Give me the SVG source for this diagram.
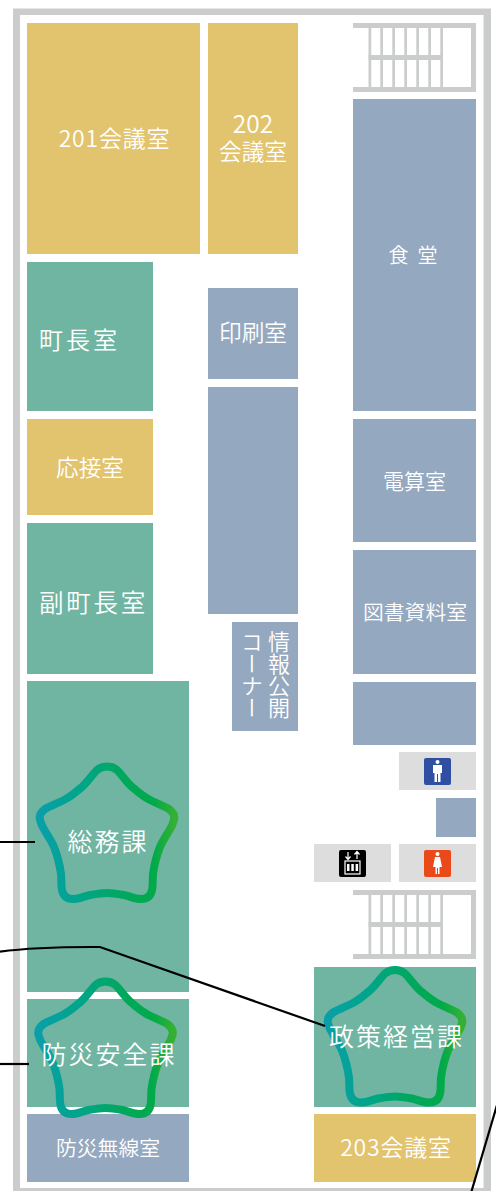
<svg xmlns="http://www.w3.org/2000/svg" xmlns:xlink="http://www.w3.org/1999/xlink" width="496" height="1191" viewBox="0 0 496 1191">
<style>
.y{fill:#e2c36e}.g{fill:#6fb5a2}.b{fill:#94a8c0}.w{fill:#dcdddc}.s{fill:#cbcdcc}
text{font-family:"Noto Sans CJK JP","Noto Sans",sans-serif;font-weight:350;fill:#fff;text-anchor:middle}
.v{writing-mode:vertical-rl;text-anchor:start}
.star{fill:none;stroke:url(#sg);stroke-width:8;stroke-linejoin:round}
.c{fill:none;stroke:#000;stroke-width:2.200}
.p{fill:#fff}
</style>
<defs>
<linearGradient id="sg" x1="0" y1="0" x2="1" y2="0"><stop offset="0" stop-color="#0a9fa8"/><stop offset=".3" stop-color="#00a58a"/><stop offset=".6" stop-color="#00a85f"/><stop offset=".85" stop-color="#00aa4a"/><stop offset="1" stop-color="#35b034"/></linearGradient>
<path id="starp" d="M0,4.500C4,4.500 7,5.500 10,8C16,14 20,21 26.700,26.300C32,31 37,35 43,38C49,41 57,44 62,47C66,50 68,54 67,58C66,62 64.500,65 62,69C59,74 55,80 53,85C49,95 47,105 46,112C45.500,118 46,124 45,128C44,133 41,137 34,137C28,137 22,134 17,133C11,132 5,131 0,131C-5,131 -11,132 -17,133C-22,134 -28,137 -34,137C-41,137 -44,133 -45,128C-46,124 -45.500,118 -46,112C-47,105 -49,95 -53,85C-55,80 -59,74 -62,69C-64.500,65 -66,62 -67,58C-68,54 -66,50 -62,47C-57,44 -49,41 -43,38C-37,35 -32,31 -26.700,26.300C-20,21 -16,14 -10,8C-7,5.500 -4,4.500 0,4.500Z"/>
<g id="stairs" class="s">
<rect x="0" y="0" width="123" height="5"/><rect x="0" y="64" width="123" height="5"/><rect x="118" y="0" width="5" height="69"/>
<rect x="15.500" y="32" width="74.500" height="5"/>
<rect x="15.500" y="0" width="2.700" height="69"/><rect x="27.300" y="0" width="2.700" height="69"/><rect x="39.300" y="0" width="2.700" height="69"/><rect x="51.300" y="0" width="2.700" height="69"/><rect x="63.300" y="0" width="2.700" height="69"/><rect x="75.300" y="0" width="2.700" height="69"/><rect x="87.300" y="0" width="2.700" height="69"/>
</g>
</defs>
<path id="frame" class="s" fill-rule="evenodd" d="M13,8.500H491V1191H13ZM20,15V1188H483.500V15Z"/>
<use href="#stairs" xlink:href="#stairs" x="353" y="23"/>
<use href="#stairs" xlink:href="#stairs" x="353" y="890"/>
<g id="r201"><rect class="y" x="27" y="23" width="173" height="231"/><text x="114.500" y="147" font-size="23" letter-spacing=".8">201会議室</text></g>
<g id="r202"><rect class="y" x="208" y="23" width="90" height="231"/><text x="253" y="133" font-size="24.500">202</text><text x="253" y="160" font-size="22.700">会議室</text></g>
<g id="mayor"><rect class="g" x="27" y="262" width="126" height="149"/><text x="79.500" y="349" font-size="24" letter-spacing="3">町長室</text></g>
<g id="reception"><rect class="y" x="27" y="419" width="126" height="96"/><text x="90" y="476" font-size="22.700">応接室</text></g>
<g id="vicemayor"><rect class="g" x="27" y="523" width="126" height="151"/><text x="93.500" y="612" font-size="24.500" letter-spacing="2.800">副町長室</text></g>
<g id="soumu"><rect class="g" x="27" y="681" width="162" height="311"/><use class="star" href="#starp" xlink:href="#starp" x="107" y="762"/><text x="108" y="851" font-size="25" letter-spacing="2">総務課</text></g>
<g id="radio"><rect class="b" x="27" y="1114" width="162" height="68"/><text x="108" y="1156" font-size="20.800">防災無線室</text></g>
<g id="bousai"><rect class="g" x="27" y="999" width="162" height="108"/><use class="star" href="#starp" xlink:href="#starp" x="105.500" y="977"/><text x="109" y="1064" font-size="25" letter-spacing="2">防災安全課</text></g>
<g id="print"><rect class="b" x="208" y="288" width="90" height="91"/><text x="253" y="341" font-size="22.700">印刷室</text></g>
<g id="blank1"><rect class="b" x="208" y="387" width="90" height="227"/></g>
<g id="info"><rect class="b" x="232" y="622" width="66" height="109"/><text class="v" x="279" y="631" font-size="22">情報公開</text><text class="v" x="252" y="631" font-size="22">コーナー</text></g>
<g id="canteen"><rect class="b" x="353" y="99" width="123" height="312"/><text x="417.500" y="263" font-size="20" letter-spacing="9">食堂</text></g>
<g id="computer"><rect class="b" x="353" y="419" width="123" height="123"/><text x="414.500" y="489" font-size="21">電算室</text></g>
<g id="library"><rect class="b" x="353" y="550" width="123" height="124"/><text x="415" y="620" font-size="20.800">図書資料室</text></g>
<g id="blank2"><rect class="b" x="353" y="682" width="123" height="63"/></g>
<g id="wcm"><rect class="w" x="399" y="752" width="77" height="38"/><rect x="424" y="758" width="27" height="27" rx="2" fill="#2f4fa3"/><circle class="p" cx="437.500" cy="762" r="2"/><path class="p" d="M433,765H442V773H440.500V782H438V774H437V782H434.500V773H433Z"/></g>
<g id="blank3"><rect class="b" x="436" y="798" width="40" height="39"/></g>
<g id="ev"><rect class="w" x="314" y="844" width="77" height="38"/><rect x="339" y="850" width="27" height="27" rx="2" fill="#000"/><path d="M348,852V859M345.500,856.500L348,859.500L350.500,856.500M357,859V852M354.500,854.500L357,851.500L359.500,854.500" fill="none" stroke="#fff" stroke-width="1.200"/><rect x="345" y="861" width="15" height="13" fill="none" stroke="#fff" stroke-width="1.200"/><path class="p" d="M347,864h2.500v7h-2.500zM351.300,864h2.500v7h-2.500zM355.600,864h2.500v7h-2.500z"/></g>
<g id="wcf"><rect class="w" x="399" y="844" width="77" height="38"/><rect x="424" y="850" width="27" height="27" rx="2" fill="#ea4a1a"/><circle class="p" cx="437.500" cy="854" r="2"/><path class="p" d="M435,857H440L442,867H439.500V874H438V868H437V874H435.500V867H433Z"/></g>
<g id="seisaku"><rect class="g" x="314" y="967" width="162" height="140"/><use class="star" href="#starp" xlink:href="#starp" x="395" y="965.500"/><text x="396.500" y="1046" font-size="25" letter-spacing="2">政策経営課</text></g>
<g id="r203"><rect class="y" x="314" y="1114" width="162" height="68"/><text x="396" y="1156" font-size="23" letter-spacing=".8">203会議室</text></g>
<g id="connectors">
<path class="c" d="M0,842H35"/>
<path class="c" d="M0,951.700C30,947.500 65,946.800 100,947L325,1026"/>
<path class="c" d="M0,1064H29"/>
<path class="c" d="M471,1193L497,1105"/>
</g>
</svg>
